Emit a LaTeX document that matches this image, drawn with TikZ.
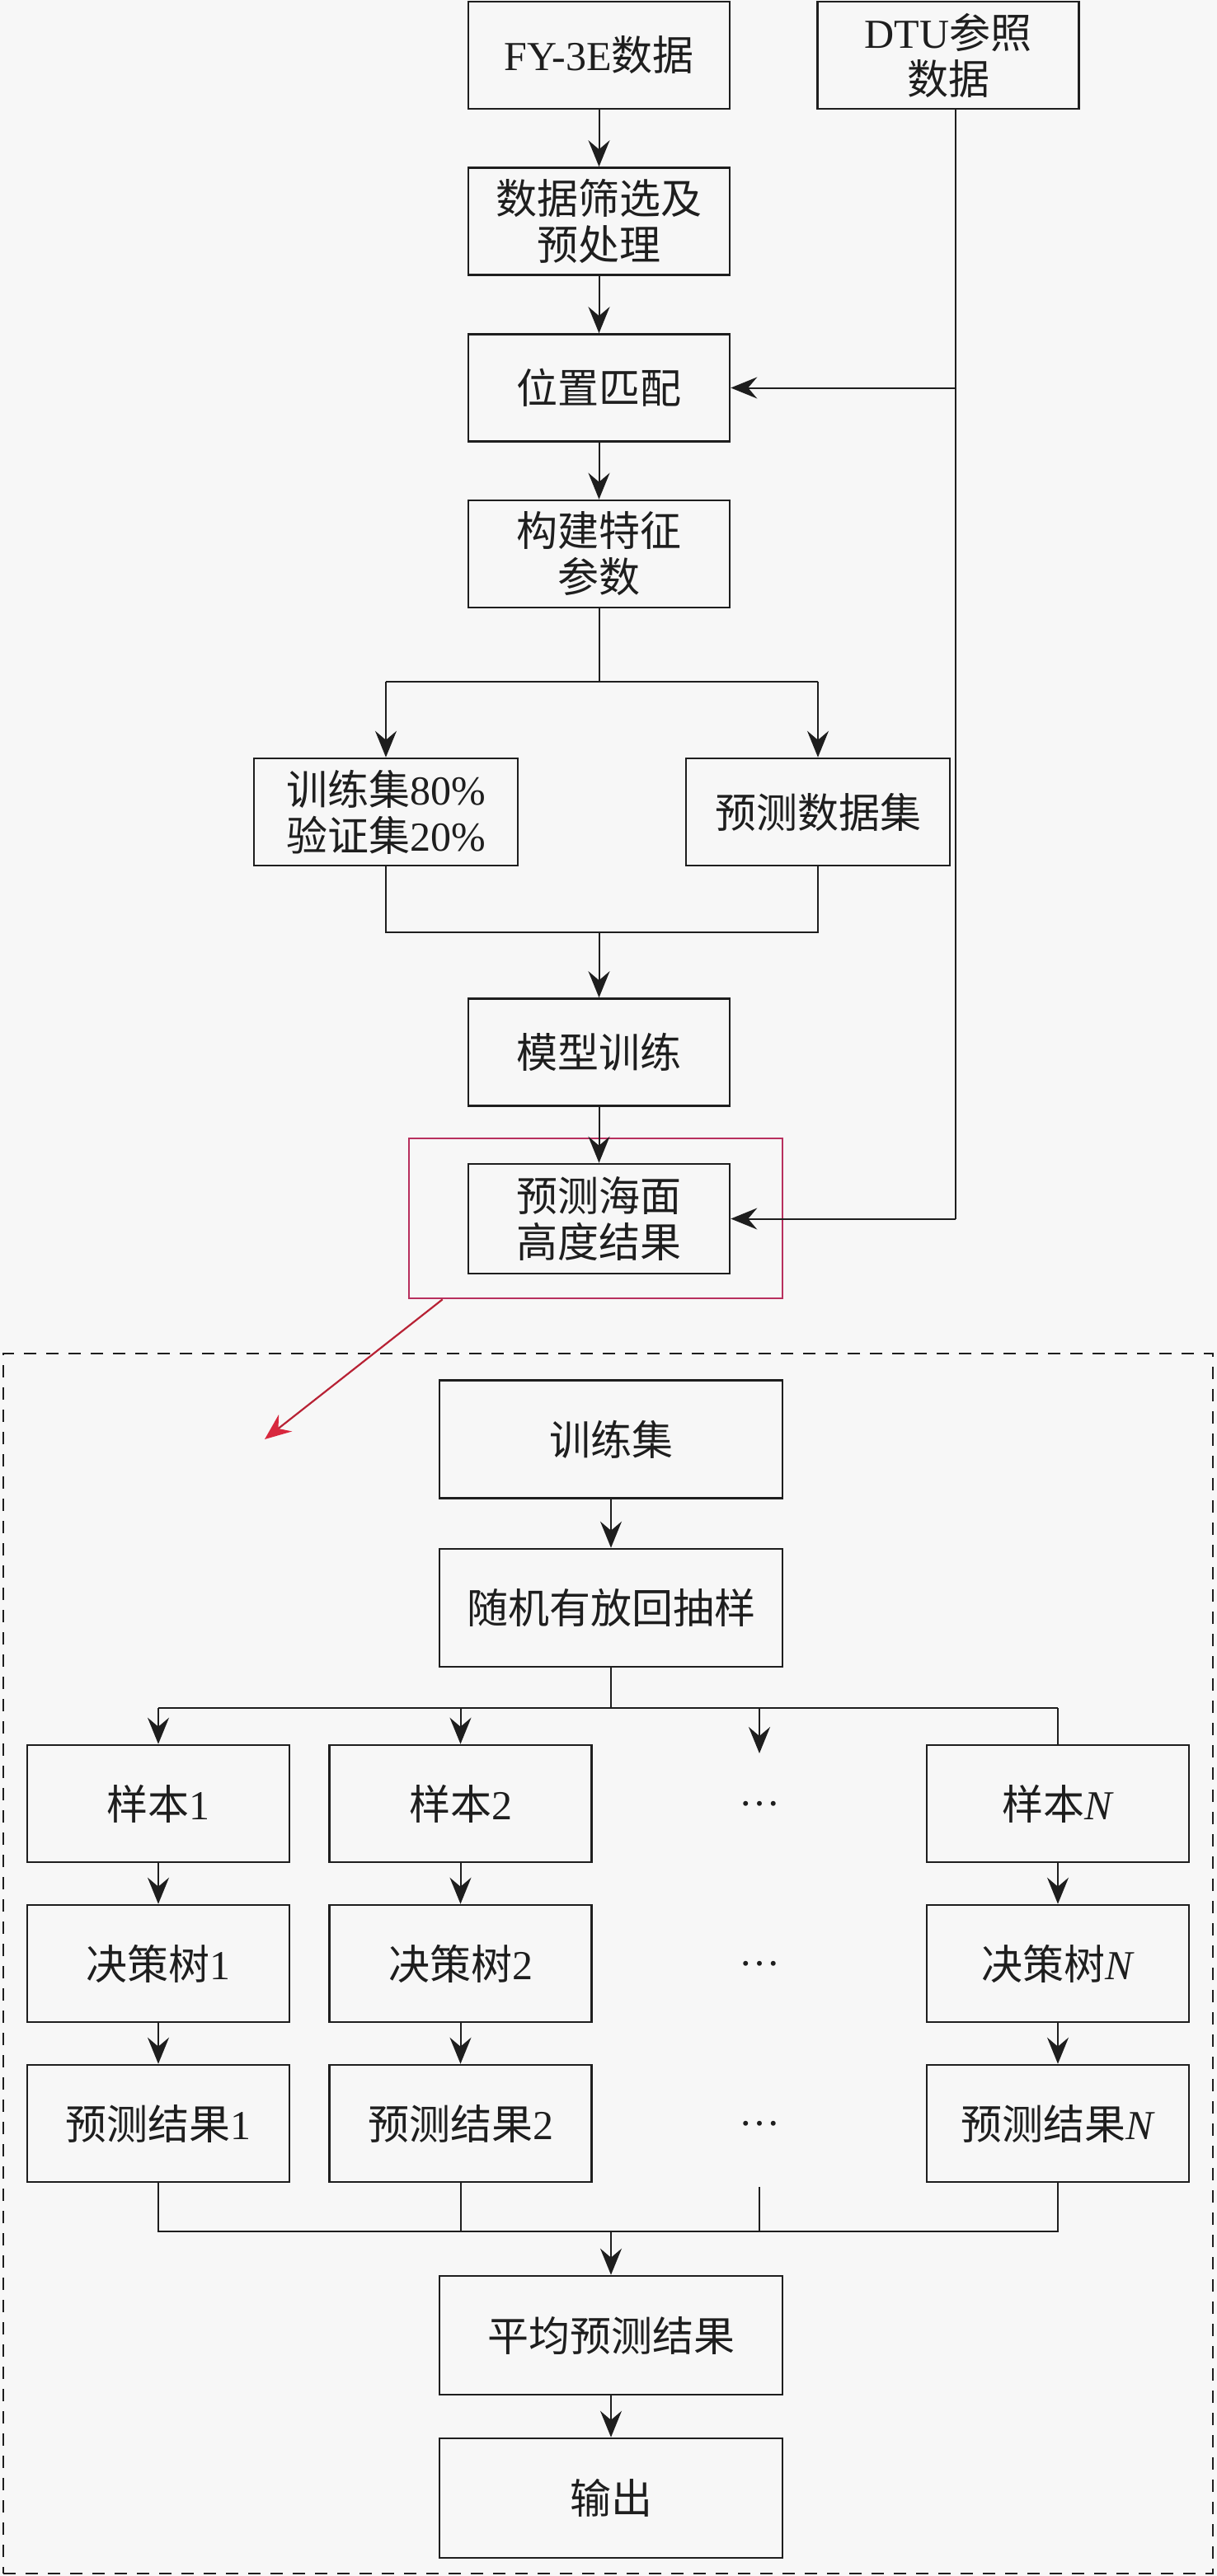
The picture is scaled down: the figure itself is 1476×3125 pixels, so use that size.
\documentclass[tikz,border=0pt]{standalone}
\usepackage{fontspec}
\setmainfont{Liberation Serif}
\newfontfamily\cjk{Noto Sans CJK SC}
\usetikzlibrary{arrows.meta}
\definecolor{bg}{HTML}{F7F7F7}
\definecolor{ink}{HTML}{1E1E1E}
\definecolor{pinkbox}{HTML}{B8305E}
\definecolor{redarrow}{HTML}{D8283E}
\newcommand{\zh}[1]{{\cjk #1}}
\begin{document}
\begin{tikzpicture}[x=0.5pt,y=-0.5pt,
  box/.style={draw=ink, line width=1.3pt, fill=bg, minimum width=158.5pt, minimum height=65pt,
    inner sep=0pt, align=center, text=ink, font=\fontsize{25}{28}\selectfont},
  wbox/.style={box, minimum width=208pt, minimum height=71.5pt},
  sbox/.style={box, minimum width=159pt, minimum height=71pt},
  plain/.style={inner sep=0pt, text=ink, font=\fontsize{25}{27}\selectfont},
  conn/.style={draw=ink, line width=1pt},
  arr/.style={conn, -{Stealth[length=16pt,width=13pt,inset=5.5pt]}},
  redarr/.style={draw=redarrow!85!black, line width=1.1pt, -{Stealth[length=16pt,width=13pt,inset=5.5pt,fill=redarrow,color=redarrow]}},
  hilite/.style={draw=pinkbox, line width=1.3pt, inner sep=0pt},
  frame/.style={draw=ink, line width=1.2pt, dash pattern=on 7.5pt off 6pt, inner sep=0pt}
]
\path[use as bounding box] (0,0) rectangle (1476,3125);
\fill[bg] (0,0) rectangle (1476,3125);

% ---------- upper flow ----------
\node[box] (fy)   at (726.5,67)    {FY-3E\zh{数据}};
\node[box] (dtu)  at (1150,67)     {DTU\zh{参照}\\\zh{数据}};
\node[box] (pre)  at (726.5,268.5) {\zh{数据筛选及}\\\zh{预处理}};
\node[box] (loc)  at (726.5,470.5) {\zh{位置匹配}};
\node[box] (feat) at (726.5,672)   {\zh{构建特征}\\\zh{参数}};
\node[box, minimum width=160pt] (train80) at (468,985) {\zh{训练集}80\%\\\zh{验证集}20\%};
\node[box, minimum width=160pt] (predset) at (992,985) {\zh{预测数据集}};
\node[box] (model)  at (726.5,1276.5) {\zh{模型训练}};
\node[box, minimum height=66.5pt] (result) at (726.5,1478.5) {\zh{预测海面}\\\zh{高度结果}};
\node[hilite, minimum width=226.5pt, minimum height=97pt] (hl) at (722.5,1478) {};

\coordinate (split1) at (726.5,827);
\coordinate (merge1) at (726.5,1131);
\coordinate (dtux) at (1159,132);
\coordinate (redend) at (321,1746);

\draw[arr] (fy) -- (pre);
\draw[arr] (pre) -- (loc);
\draw[arr] (loc) -- (feat);
\draw[conn] (feat.south) -- (split1);
\draw[conn] (train80.north |- split1) -- (predset.north |- split1);
\draw[arr] (train80.north |- split1) -- (train80.north);
\draw[arr] (predset.north |- split1) -- (predset.north);
\draw[conn] (train80.south) -- (train80.south |- merge1) -- (predset.south |- merge1) -- (predset.south);
\draw[arr] (merge1) -- (model.north);
\draw[arr] (model) -- (result);
\draw[conn] (dtux) -- (dtux |- result.east);
\draw[arr] (dtux |- loc.east) -- (loc.east);
\draw[arr] (dtux |- result.east) -- (result.east);
\draw[redarr] ([xshift=21pt]hl.south west) -- (redend);

% ---------- random forest ----------
\node[frame, minimum width=733.5pt, minimum height=740pt] (rf) at (737.5,2382) {};
\node[wbox] (tset) at (741,1746)   {\zh{训练集}};
\node[wbox] (samp) at (741,1950.5) {\zh{随机有放回抽样}};

\node[sbox] (s1) at (192,2188)   {\zh{样本}1};
\node[sbox] (s2) at (558.5,2188) {\zh{样本}2};
\node[plain] (dots1) at (921,2188) {\dots};
\node[sbox] (sN) at (1283,2188)  {\zh{样本}\textit{N}};

\node[sbox] (d1) at (192,2382)   {\zh{决策树}1};
\node[sbox] (d2) at (558.5,2382) {\zh{决策树}2};
\node[plain] (dots2) at (921,2382) {\dots};
\node[sbox] (dN) at (1283,2382)  {\zh{决策树}\textit{N}};

\node[sbox] (p1) at (192,2576)   {\zh{预测结果}1};
\node[sbox] (p2) at (558.5,2576) {\zh{预测结果}2};
\node[plain] (dots3) at (921,2576) {\dots};
\node[sbox] (pN) at (1283,2576)  {\zh{预测结果}\textit{N}};

\node[wbox, minimum height=72pt] (avg) at (741,2833)   {\zh{平均预测结果}};
\node[wbox, minimum height=72.5pt] (out) at (741,3030.5) {\zh{输出}};

\coordinate (split2) at (741,2072);
\coordinate (dtip) at (921,2127);
\coordinate (dbot) at (921,2653);
\coordinate (merge2) at (741,2707);

\draw[arr] (tset) -- (samp);
\draw[conn] (samp.south) -- (split2);
\draw[conn] (s1.north |- split2) -- (sN.north |- split2);
\draw[arr] (s1.north |- split2) -- (s1.north);
\draw[arr] (s2.north |- split2) -- (s2.north);
\draw[arr] (dtip |- split2) -- (dtip);
\draw[conn] (sN.north |- split2) -- (sN.north);

\draw[arr] (s1) -- (d1);
\draw[arr] (s2) -- (d2);
\draw[arr] (sN) -- (dN);
\draw[arr] (d1) -- (p1);
\draw[arr] (d2) -- (p2);
\draw[arr] (dN) -- (pN);

\draw[conn] (p1.south) -- (p1.south |- merge2) -- (pN.south |- merge2) -- (pN.south);
\draw[conn] (p2.south) -- (p2.south |- merge2);
\draw[conn] (dbot) -- (dbot |- merge2);
\draw[arr] (merge2) -- (avg.north);
\draw[arr] (avg) -- (out);
\end{tikzpicture}
\end{document}
